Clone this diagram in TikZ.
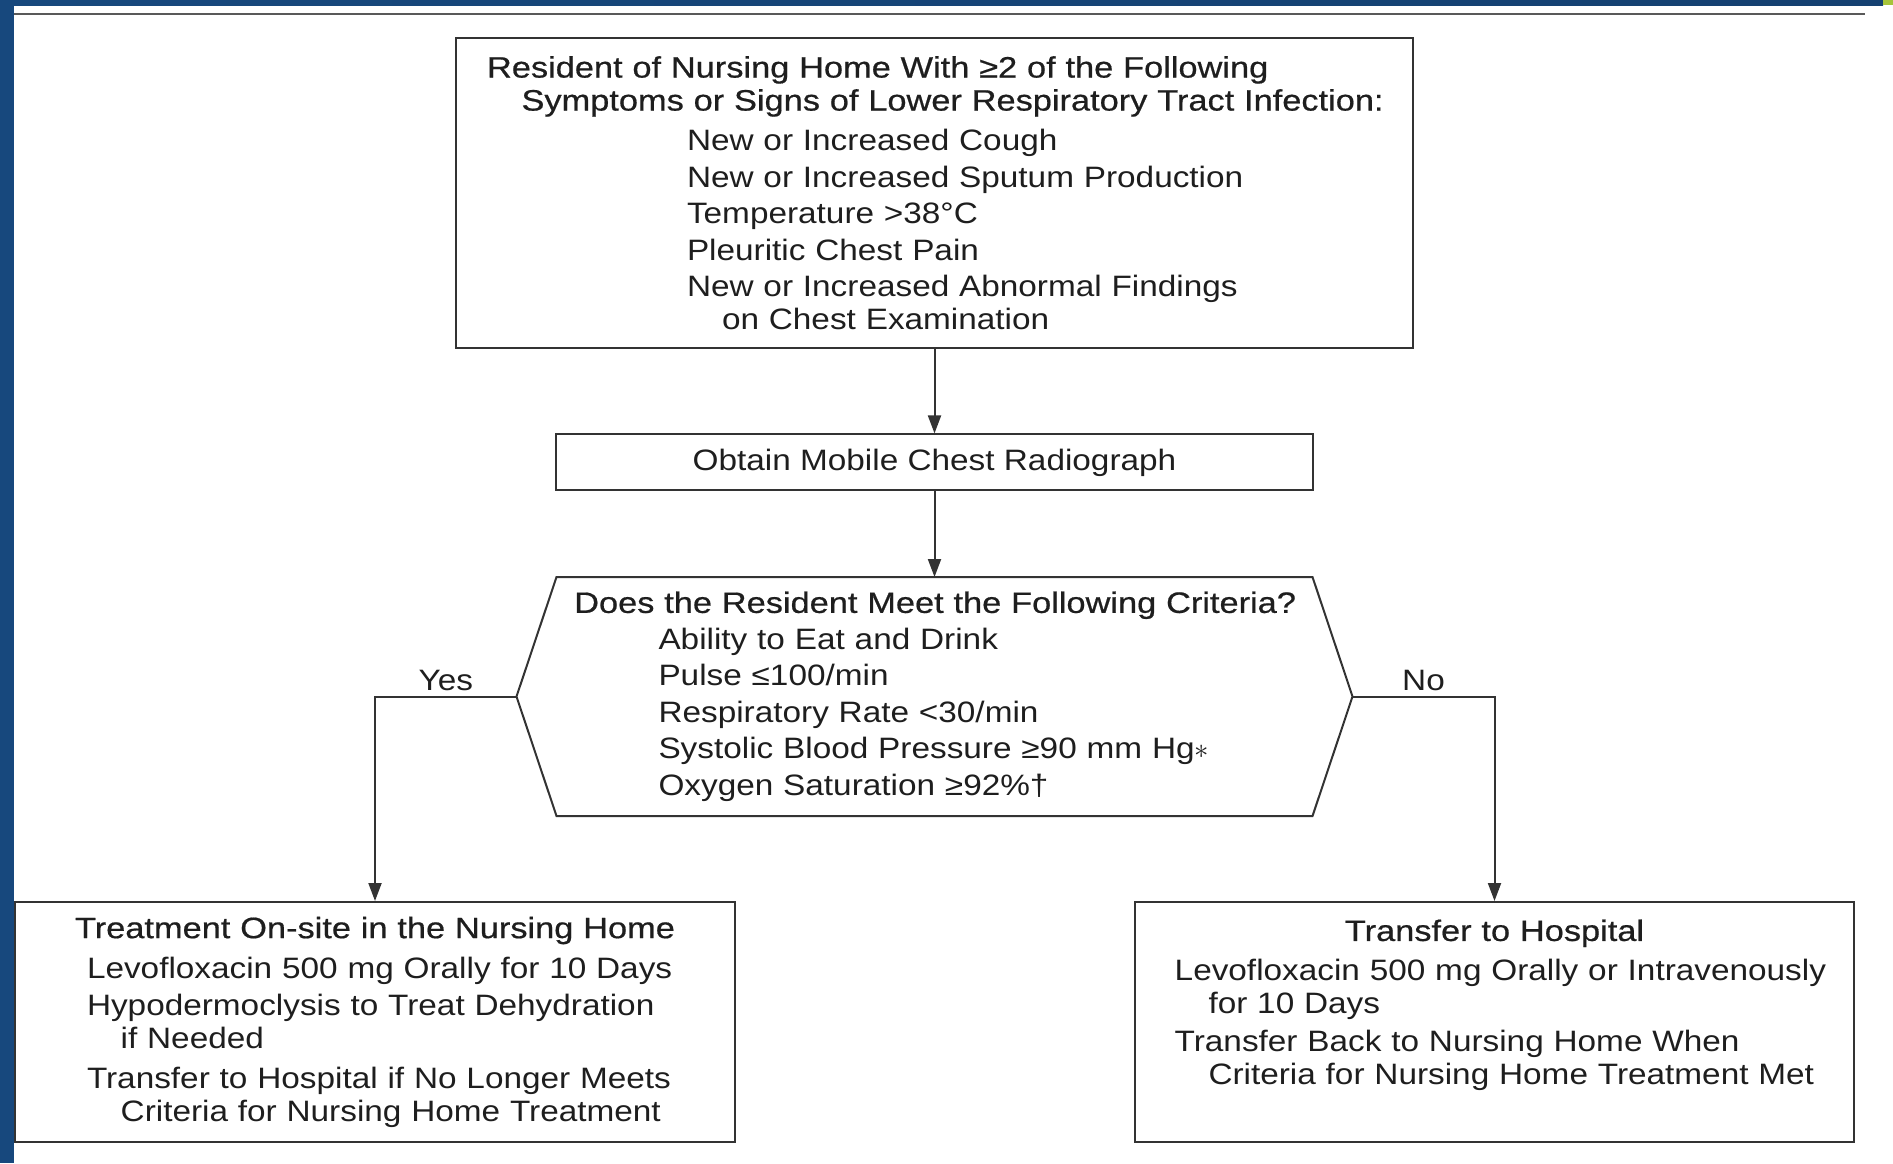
\documentclass[tikz,border=0pt]{standalone}
\usepackage{fontspec}
\setmainfont{Liberation Sans}[FakeStretch=1.13]
\newfontfamily\headfont{Liberation Sans}[FakeStretch=1.165,FakeBold=0.6]
\usepackage{tikz}
\usetikzlibrary{positioning,calc,arrows.meta}
\definecolor{ink}{HTML}{1E1E1E}
\definecolor{rule}{HTML}{333333}
\definecolor{slideblue}{HTML}{17487D}
\definecolor{slideteal}{HTML}{2B6A94}
\definecolor{slidegreen}{HTML}{A6C43A}
\newcommand{\flowfont}{\fontsize{14.75pt}{16.5pt}\selectfont}
\tikzset{ box/.style={draw=rule,line width=1pt,inner xsep=0pt,inner ysep=2pt,align=left,text=ink},
  flow/.style={draw=rule,line width=1pt,-{Triangle[length=9pt,width=6.5pt]}},
  tag/.style={above,inner sep=2.5pt,text=ink} }

\begin{document}
\begin{tikzpicture}[x=0.5pt,y=-0.5pt,font=\flowfont]
   \useasboundingbox (0,0) rectangle (1893,1163);
   % slide frame
   \fill[slideblue] (0,0) rectangle (14,1163);
   \shade[left color=slideblue,middle color=slideteal,right color=slideblue!90!black] (0,0) rectangle (1883,5);
   \fill[slidegreen] (1883,0) rectangle (1893,5);
   \draw[black!65,line width=1.25pt] (14,14) -- (1865,14);
   % flowchart
   \node[box,text width=478.5pt,minimum height=155pt] (sympt) at (934.5,193) {%
     \hspace*{15.5pt}{\headfont Resident of Nursing Home With ≥2 of the Following}\\
     \hspace*{32.75pt}{\headfont Symptoms or Signs of Lower Respiratory Tract Infection:}\\[3.5pt]
     \hspace*{115.5pt}New or Increased Cough\\[1.75pt]
     \hspace*{115.5pt}New or Increased Sputum Production\\[1.75pt]
     \hspace*{115.5pt}Temperature >38°C\\[1.75pt]
     \hspace*{115.5pt}Pleuritic Chest Pain\\[1.75pt]
     \hspace*{115.5pt}New or Increased Abnormal Findings\\
     \hspace*{133pt}on Chest Examination};
   \node[box,minimum width=378.5pt,minimum height=28pt,below=42.2pt of sympt] (radio) {Obtain Mobile Chest Radiograph};
   \node[box,draw=none,outer sep=0pt,text width=378pt,minimum height=119.5pt,below=42.8pt of radio] (crit) {%
     \hspace*{8.85pt}{\headfont Does the Resident Meet the Following Criteria?}\\[1.75pt]
     \hspace*{51pt}Ability to Eat and Drink\\[1.75pt]
     \hspace*{51pt}Pulse ≤100/min\\[1.75pt]
     \hspace*{51pt}Respiratory Rate <30/min\\[1.75pt]
     \hspace*{51pt}Systolic Blood Pressure ≥90 mm Hg$\ast$\\[1.75pt]
     \hspace*{51pt}Oxygen Saturation ≥92\%†};
   \coordinate[left=20pt of crit.west] (critW);
   \coordinate[right=20pt of crit.east] (critE);
   \draw[rule,line width=1pt,line join=miter] (crit.north west) -- (crit.north east) -- (critE)
     -- (crit.south east) -- (crit.south west) -- (critW) -- cycle;
   \node[box,text width=360pt,minimum height=120pt] (treat) at (375,1022) {%
     \makebox[\linewidth]{\headfont Treatment On-site in the Nursing Home}\\[3.5pt]
     \hspace*{36pt}Levofloxacin 500 mg Orally for 10 Days\\[2pt]
     \hspace*{36pt}Hypodermoclysis to Treat Dehydration\\
     \hspace*{52.85pt}if Needed\\[3.5pt]
     \hspace*{36pt}Transfer to Hospital if No Longer Meets\\
     \hspace*{52.85pt}Criteria for Nursing Home Treatment};
   \node[box,text width=359.5pt,minimum height=120pt] (hosp) at (1494.5,1022) {%
     \makebox[\linewidth]{\headfont Transfer to Hospital}\\[3.5pt]
     \hspace*{19.85pt}Levofloxacin 500 mg Orally or Intravenously\\
     \hspace*{36.75pt}for 10 Days\\[2.25pt]
     \hspace*{19.85pt}Transfer Back to Nursing Home When\\
     \hspace*{36.75pt}Criteria for Nursing Home Treatment Met\\[3.5pt]\mbox{}};
   \draw[flow] (sympt) -- (radio);
   \draw[flow] (radio) -- (crit);
   \draw[flow] (critW) -| node[tag,pos=0.25] {Yes} (treat);
   \draw[flow] (critE) -| node[tag,pos=0.25] {No} (hosp);
\end{tikzpicture}
\end{document}
